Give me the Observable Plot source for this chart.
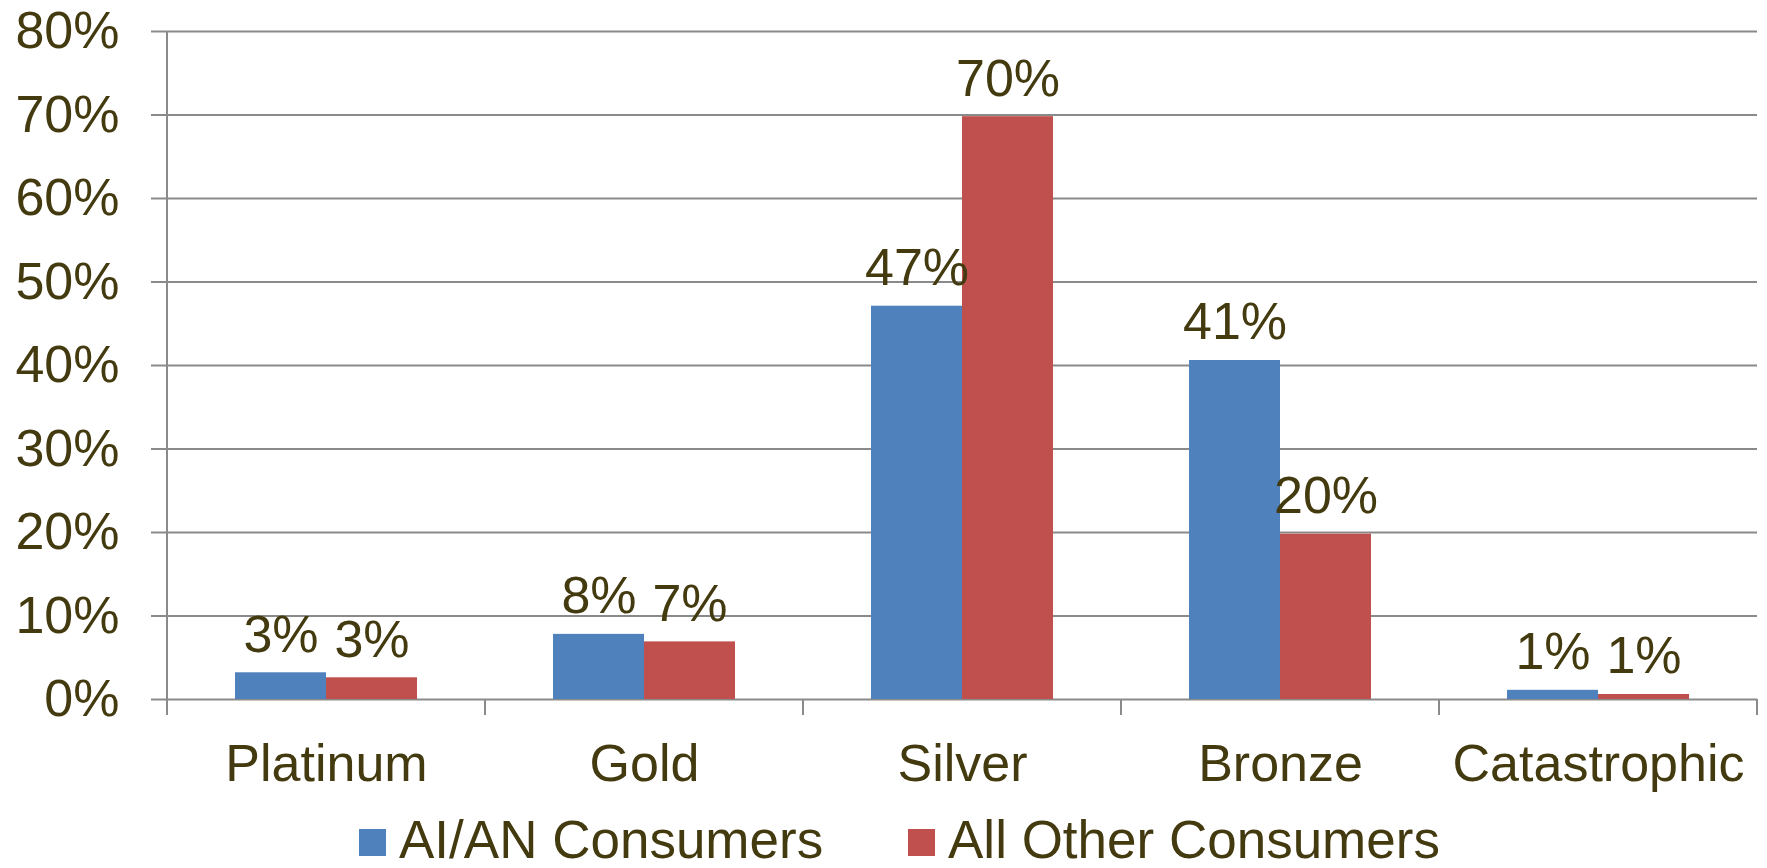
<!DOCTYPE html>
<html>
<head>
<meta charset="utf-8">
<script src="https://cdn.jsdelivr.net/npm/d3@7"></script>
<script src="https://cdn.jsdelivr.net/npm/@observablehq/plot@0.6"></script>
<style>
  html, body { margin: 0; padding: 0; background: #ffffff; }
  #chart svg, #legend svg { display: block; }
</style>
</head>
<body>
<div id="chart"></div>
<div id="legend"></div>
<script>
// ---- Data ----
const categories = ["Platinum", "Gold", "Silver", "Bronze", "Catastrophic"];
const series = ["AI/AN Consumers", "All Other Consumers"];
const aianValues = [3.2, 7.8, 47.1, 40.6, 1.1];
const otherValues = [2.6, 6.9, 69.8, 19.8, 0.6];
const yTicks = [0, 10, 20, 30, 40, 50, 60, 70, 80];
const seriesColors = ["#4f81bd", "#c0504d"];

// ---- Style ----
const textColor = "#433a0f";
const gridColor = "#8a8a8a";
const font = "'Liberation Sans', Arial, Helvetica, sans-serif";
const fontSize = 52;

const rows = [];
categories.forEach((c, i) => {
  rows.push({category: c, series: series[0], value: aianValues[i]});
  rows.push({category: c, series: series[1], value: otherValues[i]});
});

const chart = Plot.plot({
  width: 1767,
  height: 810,
  marginLeft: 166,
  marginRight: 9,
  marginTop: 31,
  marginBottom: 111,
  style: {fontFamily: font, fontSize: fontSize + "px", color: textColor, background: "#ffffff", overflow: "visible"},
  fx: {domain: categories, padding: 0, label: null},
  x: {domain: series, paddingInner: 0, paddingOuter: 0.747, axis: null},
  y: {domain: [0, 80], label: null},
  color: {domain: series, range: seriesColors},
  marks: [
    Plot.gridY(yTicks, {stroke: gridColor, strokeWidth: 2, strokeOpacity: 1}),
    Plot.barY(rows, {fx: "category", x: "series", y: "value", fill: "series"}),
    Plot.text(rows, {
      fx: "category", x: "series", y: "value",
      text: d => Math.round(d.value) + "%",
      lineAnchor: "bottom", dy: -21,
      fontSize: fontSize, fill: textColor
    }),
    Plot.axisY(yTicks, {
      tickFormat: d => d + "%",
      tickSize: 16, tickPadding: 32,
      stroke: gridColor, strokeWidth: 2, strokeOpacity: 1,
      fill: textColor, fontSize: fontSize, label: null
    }),
    Plot.axisFx({anchor: "bottom", tickSize: 0, tickPadding: 45, fontSize: fontSize, fill: textColor, label: null})
  ]
});

document.getElementById("chart").appendChild(chart);

// Category boundary ticks and y-axis line, positioned with Plot's own scales
const fxScale = chart.scale("fx");
const yScale = chart.scale("y");
const y0 = yScale.apply(0);
const yTop = yScale.apply(80);
const tickLen = 16;
const boundaries = categories.map(c => fxScale.apply(c));
boundaries.push(fxScale.apply(categories[categories.length - 1]) + fxScale.bandwidth);
const g = d3.select(chart).append("g")
  .attr("stroke", gridColor).attr("stroke-width", 2);
boundaries.forEach((bx, i) => {
  g.append("line")
    .attr("x1", bx).attr("x2", bx)
    .attr("y1", i === 0 ? yTop : y0)
    .attr("y2", y0 + tickLen);
});

// ---- Legend (below the chart) ----
const legendX = [359, 908];
const lsvg = d3.select("#legend").append("svg")
  .attr("width", 1767).attr("height", 58)
  .style("font-family", font);
series.forEach((s, i) => {
  lsvg.append("rect")
    .attr("x", legendX[i]).attr("y", 19)
    .attr("width", 27).attr("height", 27)
    .attr("fill", seriesColors[i]);
  lsvg.append("text")
    .attr("x", legendX[i] + 40).attr("y", 48)
    .attr("font-size", 53)
    .attr("fill", textColor)
    .text(s);
});
</script>
</body>
</html>
